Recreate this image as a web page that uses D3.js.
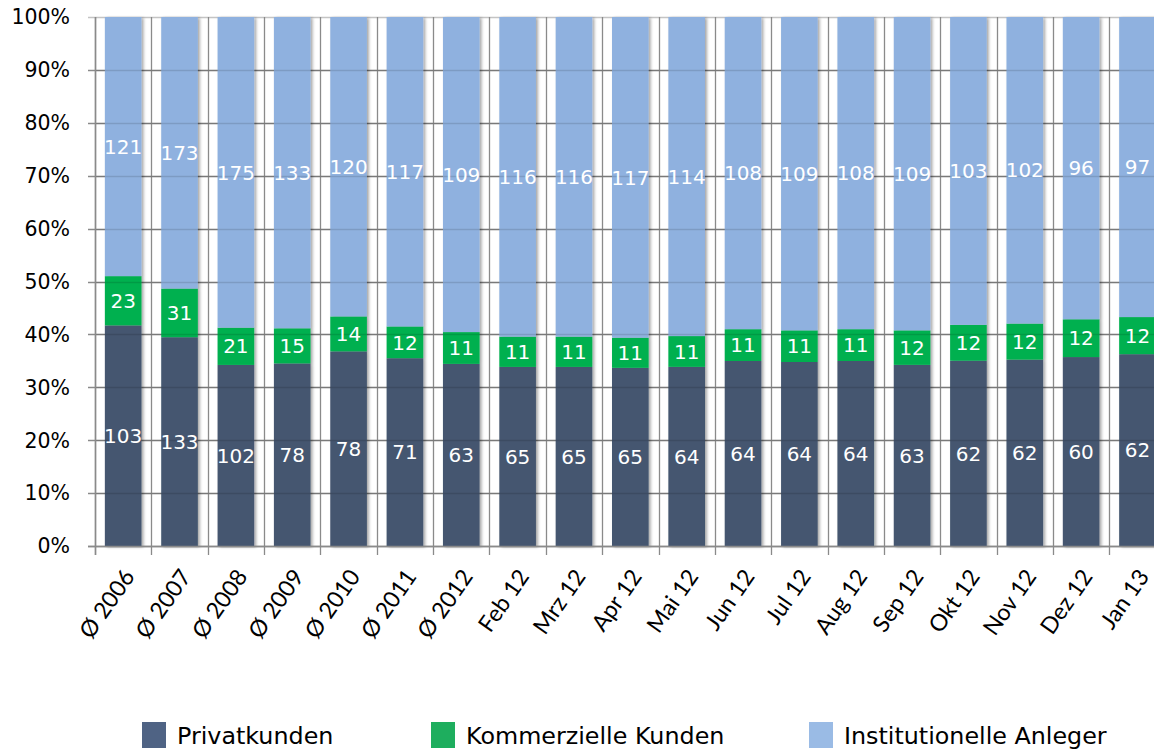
<!DOCTYPE html>
<html>
<head>
<meta charset="utf-8">
<script src="https://cdn.jsdelivr.net/npm/d3@7"></script>
<style>
  html, body { margin: 0; padding: 0; background: #fff; }
  svg { display: block; }
</style>
</head>
<body>
<svg id="chart" width="1154" height="749"></svg>
<script>
const categories = ["Ø 2006","Ø 2007","Ø 2008","Ø 2009","Ø 2010","Ø 2011","Ø 2012","Feb 12","Mrz 12","Apr 12","Mai 12","Jun 12","Jul 12","Aug 12","Sep 12","Okt 12","Nov 12","Dez 12","Jan 13"];
const privatkunden = [103,133,102,78,78,71,63,65,65,65,64,64,64,64,63,62,62,60,62];
const kommerzielle = [23,31,21,15,14,12,11,11,11,11,11,11,11,11,12,12,12,12,12];
const institutionelle = [121,173,175,133,120,117,109,116,116,117,114,108,109,108,109,103,102,96,97];
const seriesNames = ["Privatkunden","Kommerzielle Kunden","Institutionelle Anleger"];
const yTicks = [0,0.1,0.2,0.3,0.4,0.5,0.6,0.7,0.8,0.9,1.0];

(function () {
const barColors = ["#44566f", "#00b050", "#8fb1df"];
const legendColors = ["#4f6384", "#1eae5e", "#9abbe5"];

const svg = d3.select("#chart");
const pLeft = 95, pTop = 17, pBottom = 546;
const step = 56.35;
const n = categories.length;

const x = d3.scaleBand().domain(categories)
  .range([pLeft, pLeft + step * n])
  .paddingInner(0.35).paddingOuter(0.175);
const y = d3.scaleLinear().domain([0, 1]).range([pBottom, pTop]);

const data = categories.map((c, i) => {
  const vals = [privatkunden[i], kommerzielle[i], institutionelle[i]];
  const total = d3.sum(vals);
  let acc = 0;
  const segs = vals.map((v, k) => {
    const y0 = acc / total; acc += v; const y1 = acc / total;
    return { cat: c, k, v, y0, y1 };
  });
  return { cat: c, segs };
});

// shadow filter
const defs = svg.append("defs");
const f = defs.append("filter").attr("id", "shadow").attr("x", "-20%").attr("y", "-5%").attr("width", "150%").attr("height", "115%");
f.append("feDropShadow").attr("dx", 2).attr("dy", 1).attr("stdDeviation", 1.6)
  .attr("flood-color", "#000").attr("flood-opacity", 0.35);

// grid (behind)
const grid = svg.append("g");
grid.selectAll("line.h").data(yTicks).join("line")
  .attr("x1", pLeft - 7).attr("x2", 1154)
  .attr("y1", d => Math.round(y(d)) + 0.5).attr("y2", d => Math.round(y(d)) + 0.5)
  .attr("stroke", d => d === 1 ? "#c4c4c4" : "#8a8a8a").attr("stroke-width", 1.3);
const bounds = d3.range(n + 1).map(i => pLeft + step * i);
grid.selectAll("line.v").data(bounds).join("line")
  .attr("x1", d => Math.round(d) + 0.5).attr("x2", d => Math.round(d) + 0.5)
  .attr("y1", pTop).attr("y2", pBottom + 9)
  .attr("stroke", "#8a8a8a").attr("stroke-width", 1.3);

// bars
const barsG = svg.append("g");
const groups = barsG.selectAll("g").data(data).join("g").attr("filter", "url(#shadow)");
groups.selectAll("rect").data(d => d.segs).join("rect")
  .attr("x", d => x(d.cat))
  .attr("width", x.bandwidth())
  .attr("y", d => y(d.y1))
  .attr("height", d => y(d.y0) - y(d.y1))
  .attr("fill", d => barColors[d.k]);

// faint grid over bars
svg.append("g").selectAll("line").data(yTicks.filter(d => d > 0 && d < 1)).join("line")
  .attr("x1", pLeft).attr("x2", 1154)
  .attr("y1", d => Math.round(y(d)) + 0.5).attr("y2", d => Math.round(y(d)) + 0.5)
  .attr("stroke", "#000").attr("stroke-opacity", 0.12).attr("stroke-width", 1.3);

// axes lines
svg.append("line").attr("x1", pLeft + 0.5).attr("x2", pLeft + 0.5).attr("y1", pTop).attr("y2", pBottom + 9)
  .attr("stroke", "#8a8a8a").attr("stroke-width", 1.5);
svg.append("line").attr("x1", pLeft - 7).attr("x2", 1154).attr("y1", pBottom + 0.5).attr("y2", pBottom + 0.5)
  .attr("stroke", "#8a8a8a").attr("stroke-width", 1.5);

// value labels
const labelsG = svg.append("g");
const allSegs = data.flatMap(d => d.segs);
labelsG.selectAll("text").data(allSegs).join("text")
  .attr("x", s => x(s.cat) + x.bandwidth() / 2)
  .attr("y", s => y((s.y0 + s.y1) / 2))
  .attr("dy", "0.36em")
  .attr("text-anchor", "middle")
  .attr("font-family", "DejaVu Sans, Verdana, sans-serif")
  .attr("font-size", 20)
  .attr("fill", "#fff")
  .text(s => s.v);

// y tick labels
svg.append("g").selectAll("text").data(yTicks).join("text")
  .attr("x", 70).attr("y", d => y(d))
  .attr("dy", "0.36em")
  .attr("text-anchor", "end")
  .attr("font-family", "DejaVu Sans, Verdana, sans-serif")
  .attr("font-size", 20.5)
  .attr("fill", "#000")
  .text(d => d3.format(".0%")(d));

// x tick labels
svg.append("g").selectAll("text").data(categories).join("text")
  .attr("transform", d => `translate(${x(d) + x.bandwidth() / 2 + 6},${pBottom + 26}) rotate(-55)`)
  .attr("text-anchor", "end")
  .attr("dy", "0.35em")
  .attr("font-family", "Lato, 'Open Sans', sans-serif")
  .attr("font-size", 23)
  .attr("fill", "#000")
  .text(d => d);

// legend
const legendPos = [142, 431, 809];
const lg = svg.append("g");
seriesNames.forEach((name, i) => {
  lg.append("rect").attr("x", legendPos[i]).attr("y", 722).attr("width", 24).attr("height", 26)
    .attr("fill", legendColors[i]);
  lg.append("text").attr("x", legendPos[i] + 35).attr("y", 744)
    .attr("font-family", "DejaVu Sans, Verdana, sans-serif")
    .attr("font-size", 23.8)
    .attr("fill", "#000")
    .text(name);
});
})();
</script>
</body>
</html>
